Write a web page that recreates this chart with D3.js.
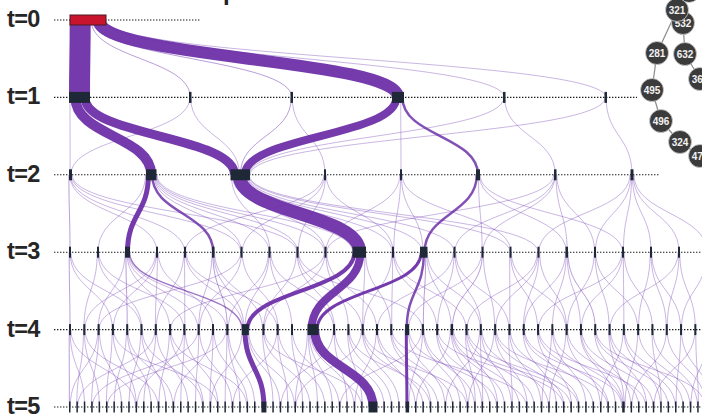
<!DOCTYPE html>
<html>
<head>
<meta charset="utf-8">
<script src="https://cdn.jsdelivr.net/npm/d3@7"></script>
<style>
  html, body { margin: 0; padding: 0; background: #fff; overflow: hidden; }
  svg { display: block; }
</style>
</head>
<body>
<svg id="chart" width="702" height="415"></svg>
<script>
// ---- data -------------------------------------------------------------
const stepLabels = ["t=0", "t=1", "t=2", "t=3", "t=4", "t=5"];
const nodeCounts = [1, 6, 8, 23, 44, 86];

// transitions between consecutive steps: [parent node, child node, samples]
const links01 = [[0,0,42],[0,1,2],[0,2,2],[0,3,24],[0,4,1],[0,5,1]];

const links12 = [
  [0,0,1],[0,1,20],[0,2,18],
  [1,0,1],[1,2,1],
  [2,2,2],[2,3,1],
  [3,2,16],[3,4,1],[3,5,5],
  [4,2,1],[4,6,1],
  [5,2,1],[5,7,1]
];

const links23 = [
  [0,0,2],[0,3,1],[0,4,1],[0,6,1],[0,8,1],
  [1,1,1],[1,2,10],[1,5,5],[1,6,1],[1,7,1],[1,8,1],[1,9,1],[1,10,1],
  [2,10,26],[2,7,1],[2,9,1],[2,11,1],[2,13,1],[2,15,1],[2,16,1],[2,12,1],
  [3,8,1],[3,11,1],[3,4,1],[3,6,1],
  [4,11,1],[4,12,1],[4,15,1],[4,9,1],
  [5,12,5],[5,14,1],[5,17,1],[5,19,1],
  [6,13,1],[6,17,1],[6,18,1],[6,9,1],[6,14,1],
  [7,18,1],[7,19,1],[7,20,1],[7,21,1],[7,22,1],[7,16,1]
];

const links34 = [
  [0,0,2],[0,3,1],[0,5,1],
  [1,1,1],[1,5,1],[1,8,1],
  [2,2,1],[2,4,2],[2,7,1],[2,12,3],[2,9,1],[2,11,1],
  [3,3,1],[3,10,1],[3,6,1],[3,1,1],
  [4,6,1],[4,8,1],[4,12,1],[4,14,1],
  [5,9,1],[5,11,2],[5,13,1],[5,12,1],
  [6,14,1],[6,2,1],[6,9,1],
  [7,15,1],[7,17,1],[7,12,1],[7,11,1],
  [8,13,1],[8,19,1],[8,17,1],[8,23,1],
  [9,18,1],[9,20,1],[9,7,1],[9,13,1],
  [10,12,8],[10,16,16],[10,21,1],[10,19,1],
  [11,19,1],[11,21,1],[11,26,1],[11,24,1],
  [12,16,6],[12,22,5],[12,23,2],[12,25,1],[12,27,1],
  [13,24,1],[13,27,1],[13,20,1],[13,29,1],
  [14,25,2],[14,28,1],[14,22,1],
  [15,29,1],[15,31,1],[15,33,1],
  [16,30,1],[16,33,1],[16,26,1],[16,28,1],
  [17,32,1],[17,35,2],[17,34,1],[17,30,1],
  [18,36,1],[18,38,1],[18,33,1],
  [19,37,1],[19,39,1],[19,31,1],[19,34,1],
  [20,40,1],[20,41,1],[20,38,1],
  [21,42,1],[21,36,1],[21,40,1],
  [22,43,1],[22,41,1]
];

const links45 = [
  [0,0,2],[0,2,1],
  [1,1,1],[1,4,1],
  [2,3,1],[2,7,1],
  [3,5,1],[3,9,1],
  [4,6,1],[4,11,1],[4,14,1],
  [5,8,1],[5,13,1],
  [6,10,1],[6,16,1],
  [7,12,1],[7,18,1],
  [8,15,1],[8,20,1],
  [9,17,1],[9,22,1],
  [10,19,1],[10,24,1],
  [11,21,1],[11,23,1],[11,25,1],
  [12,26,10],[12,28,1],[12,30,1],
  [13,27,1],[13,32,1],
  [14,29,1],[14,34,1],
  [15,31,1],[15,36,1],
  [16,40,18],[16,33,1],[16,35,1],[16,38,1],
  [17,37,1],[17,41,1],
  [18,39,1],[18,42,1],
  [19,43,1],[19,46,1],
  [20,45,1],[20,48,1],
  [21,47,1],[21,50,1],
  [22,44,6],[22,49,1],
  [23,51,1],[23,53,1],
  [24,52,1],[24,55,1],
  [25,54,1],[25,57,1],[25,59,1],
  [26,56,1],[26,61,1],
  [27,58,1],[27,63,1],
  [28,60,1],[28,65,1],
  [29,62,1],[29,67,1],
  [30,64,1],[30,69,1],
  [31,66,1],[31,71,1],
  [32,68,1],[32,73,1],
  [33,70,1],[33,75,1],
  [34,72,1],[34,77,1],
  [35,74,1],[35,79,1],
  [36,76,1],[36,80,1],
  [37,78,1],[37,81,1],
  [38,82,1],[39,83,1],[40,84,1],[41,85,1],
  [42,83,1],[43,85,1],[3,20,1],[9,3,1],[14,22,1],[30,73,1],[34,73,1],
  [36,73,1],[38,73,1],[25,45,1],[27,49,1],[19,30,1],[6,1,1],[11,5,1],
  [21,60,1],[20,38,1],[24,65,1],[28,52,1],[17,28,1],[7,24,1],[10,14,1],
  [33,63,1],[39,78,1],[40,74,1],[26,67,1],[23,36,1],
  [0,9,1],[1,12,1],[2,0,1],[5,18,1],[8,9,1],[12,19,1],[13,39,1],[16,30,1],
  [18,47,1],[22,56,1],[23,44,1],[25,66,1],[27,54,1],[29,58,1],[31,76,1],
  [32,62,1],[35,84,1],[37,70,1],[41,80,1],[42,77,1],[43,82,1],[19,52,1],
  [26,53,1],[28,71,1]
];

// small search-tree inset: node ids, parent, offset from parent
const insetIds    = ["321", "578", "532", "281", "632", "368", "495", "496", "324", "471"];
const insetParent = [-1, 0, 0, 0, 2, 4, 3, 6, 7, 8];
const insetDx     = [0, 12, 6, -20, 2, 15, -5, 9, 19, 20];
const insetDy     = [0, -19, 13, 43, 31, 25, 37, 31, 21, 14];

// ---- layout -----------------------------------------------------------
const W = 702, H = 415;
const svg = d3.select("#chart");

const stepY = d3.scalePoint().domain(stepLabels).range([20, 407]);
const sampleWidth = d3.scaleLinear().domain([0, 10]).range([0, 5]);
const minNodeW = [2, 2.5, 2, 2, 2, 1.5];
const nodeGap = [0, 99, 74, 26, 12.3, 5.9];
const widePad = [0, 0, 0, 0, 0.25, 0];
const nodeH = [10, 11, 11, 11, 11, 11];
const ruleEnd = [200, 637, 660, W, W, W];

const levels = nodeCounts.map((n, li) =>
  d3.range(n).map(i => ({ level: li, index: i, ins: [], outs: [] })));

const allLinks = [];
[links01, links12, links23, links34, links45].forEach((set, li) => {
  set.forEach(([s, t, v]) => {
    const l = { source: levels[li][s], target: levels[li + 1][t], value: v };
    l.width = Math.max(0.8, sampleWidth(v));
    l.source.outs.push(l);
    l.target.ins.push(l);
    allLinks.push(l);
  });
});

levels.forEach((nodes, li) => {
  let cursor = li === 0 ? 70 : 69;
  nodes.forEach(n => {
    n.value = Math.max(d3.sum(n.ins, l => l.value), d3.sum(n.outs, l => l.value));
    n.w = Math.max(minNodeW[li], sampleWidth(n.value));
    const pad = (n.w - minNodeW[li]) * widePad[li];
    cursor += pad;
    n.x0 = cursor;
    n.cx = cursor + n.w / 2;
    n.y = stepY(stepLabels[li]);
    cursor += n.w + pad + nodeGap[li];
  });
});

// stack link ends side by side inside each node
levels.flat().forEach(n => {
  const outs = n.outs.slice().sort((a, b) => a.target.cx - b.target.cx);
  let x = n.cx - d3.sum(outs, l => l.width) / 2;
  outs.forEach(l => { l.sx = x + l.width / 2; x += l.width; });
  const ins = n.ins.slice().sort((a, b) => a.source.cx - b.source.cx);
  x = n.cx - d3.sum(ins, l => l.width) / 2;
  ins.forEach(l => { l.tx = x + l.width / 2; x += l.width; });
});

// ---- drawing ----------------------------------------------------------
// heading above the first step, running off the top edge
svg.append("text")
  .attr("x", 55).attr("y", 0)
  .attr("font-family", "Liberation Sans, Arial, sans-serif")
  .attr("font-weight", "bold").attr("font-size", 24)
  .attr("fill", "#222")
  .text("Evolution of top nodes");

const link = d3.linkVertical().x(d => d[0]).y(d => d[1]);
const linkOpacity = d3.scaleLinear().domain([0.8, 3]).range([0.5, 0.93]).clamp(true);

svg.append("g").attr("fill", "none")
  .selectAll("path")
  .data(allLinks.slice().sort((a, b) => a.width - b.width))
  .join("path")
  .attr("d", l => link({ source: [l.sx, l.source.y], target: [l.tx, l.target.y] }))
  .attr("stroke", l => l.width > 1.2 ? "#6a2ca6" : "#7a48b8")
  .attr("stroke-opacity", l => linkOpacity(l.width))
  .attr("stroke-width", l => l.width);

// dotted step rules
svg.append("g")
  .selectAll("line")
  .data(stepLabels)
  .join("line")
  .attr("x1", 54).attr("x2", (d, i) => ruleEnd[i])
  .attr("y1", d => stepY(d)).attr("y2", d => stepY(d))
  .attr("stroke", "#1a1a1a").attr("stroke-width", 1.1)
  .attr("stroke-dasharray", "1.4 1.6");

// step labels
svg.append("g")
  .selectAll("text")
  .data(stepLabels)
  .join("text")
  .attr("x", 7).attr("y", d => stepY(d) + 7)
  .attr("font-family", "Liberation Sans, Arial, sans-serif")
  .attr("font-weight", "bold").attr("font-size", 23.5)
  .attr("letter-spacing", -0.6)
  .attr("fill", "#262626")
  .text(d => d);

// nodes
svg.append("g")
  .selectAll("rect")
  .data(levels.flat())
  .join("rect")
  .attr("x", n => n.x0)
  .attr("y", n => n.y - nodeH[n.level] / 2)
  .attr("width", n => n.w)
  .attr("height", n => nodeH[n.level])
  .attr("fill", n => n.level === 0 ? "#c8142c" : "#1f2837")
  .attr("stroke", n => n.level === 0 ? "#4a1a22" : "none")
  .attr("stroke-width", 1);

// inset tree
const insetX = d3.scaleLinear().domain([0, 1]).range([677, 678]);
const insetY = d3.scaleLinear().domain([0, 1]).range([10, 11]);
const inset = insetIds.map((id, i) => ({ id, parent: insetParent[i] }));
inset.forEach((d, i) => {
  const p = d.parent < 0 ? { u: 0, v: 0 } : inset[d.parent];
  d.u = p.u + insetDx[i];
  d.v = p.v + insetDy[i];
  d.x = insetX(d.u);
  d.y = insetY(d.v);
});
const ig = svg.append("g");
ig.selectAll("line")
  .data(inset.filter(d => d.parent >= 0))
  .join("line")
  .attr("x1", d => inset[d.parent].x).attr("y1", d => inset[d.parent].y)
  .attr("x2", d => d.x).attr("y2", d => d.y)
  .attr("stroke", "#8a8a8a").attr("stroke-width", 1.2);
ig.append("line")
  .attr("x1", inset[1].x).attr("y1", inset[1].y)
  .attr("x2", insetX(inset[1].u + 30)).attr("y2", insetY(inset[1].v + 4))
  .attr("stroke", "#8a8a8a").attr("stroke-width", 1.2);
const nodeG = ig.selectAll("g.n")
  .data(inset.slice().reverse())
  .join("g").attr("class", "n")
  .attr("transform", d => `translate(${d.x},${d.y})`);
nodeG.append("circle").attr("r", 11.5)
  .attr("fill", "#3b3b3b").attr("stroke", "#d0d0d0").attr("stroke-width", 0.8);
nodeG.append("text")
  .attr("text-anchor", "middle").attr("dy", "0.36em")
  .attr("font-family", "Liberation Sans, Arial, sans-serif")
  .attr("font-weight", "bold").attr("font-size", 10)
  .attr("fill", "#f2f2f2")
  .text(d => d.id);
</script>
</body>
</html>
